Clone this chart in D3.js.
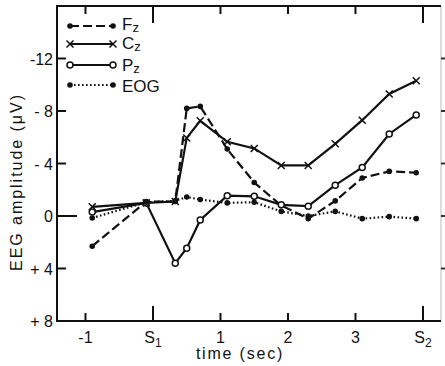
<!DOCTYPE html>
<html><head><meta charset="utf-8">
<script src="https://cdn.jsdelivr.net/npm/d3@7"></script>
<style>
html,body{margin:0;padding:0;background:#fff;}
svg{display:block;font-family:"Liberation Sans",Arial,sans-serif;}
</style></head>
<body><svg id="c" width="445" height="366"></svg>
<script>
// time in seconds, S1 = 0, S2 = 4
const times = [-0.9, -0.1, 0.33, 0.5, 0.7, 1.1, 1.5, 1.9, 2.3, 2.7, 3.1, 3.5, 3.9];
const fz  = [2.3, -1.1, -1.1, -8.2, -8.35, -5.1, -2.55, -0.8, 0.2, -1.15, -2.9, -3.4, -3.3];
const cz  = [-0.7, -1.0, -1.1, -5.95, -7.25, -5.65, -5.15, -3.85, -3.85, -5.5, -7.3, -9.3, -10.3];
const pz  = [-0.3, -1.0, 3.6, 2.45, 0.3, -1.55, -1.5, -0.85, -0.75, -2.35, -3.7, -6.25, -7.7];
const eog = [0.15, -1.05, -1.15, -1.45, -1.25, -1.0, -1.05, -0.35, 0.0, -0.35, 0.2, 0.05, 0.2];
const xTicks = [-1, 0, 1, 2, 3, 4];
const xTickLabels = ["-1", "S|1", "1", "2", "3", "S|2"];
const yTicks = [-12, -8, -4, 0, 4, 8];
const yTickLabels = ["-12", "- 8", "- 4", "0", "+ 4", "+ 8"];
const seriesNames = ["F|z", "C|z", "P|z", "EOG"];

const svg = d3.select("#c");
const L = 57, R = 441, T = 6, B = 321;
const x = d3.scaleLinear().domain([-1.422, 4.267]).range([L, R]);
const y = d3.scaleLinear().domain([-16, 8]).range([T, B]);

const series = [
  {name: seriesNames[0], vals: fz, dash: "9,4", marker: "dot"},
  {name: seriesNames[1], vals: cz, dash: null, marker: "x"},
  {name: seriesNames[2], vals: pz, dash: null, marker: "circle"},
  {name: seriesNames[3], vals: eog, dash: "1.6,2.4", marker: "dot"}
];

// frame
svg.append("line").attr("x1", R).attr("x2", R).attr("y1", T).attr("y2", B)
  .attr("stroke", "#bbb").attr("stroke-width", 1);
svg.append("path").attr("d", `M${R},${T}H${L}V${B}H${R}`)
  .attr("fill", "none").attr("stroke", "#111").attr("stroke-width", 2);

// bottom axis (ticks inward)
const bottom = svg.append("g").attr("transform", `translate(0,${B})`)
  .call(d3.axisBottom(x).tickValues(xTicks).tickSize(0).tickFormat(""));
bottom.select(".domain").remove();
xTicks.forEach((t, i) => {
  const long = (t === 0 || t === 4);
  svg.append("line").attr("x1", x(t)).attr("x2", x(t))
    .attr("y1", B).attr("y2", B - (long ? 15 : 8))
    .attr("stroke", "#111").attr("stroke-width", 2);
  svg.append("line").attr("x1", x(t)).attr("x2", x(t))
    .attr("y1", T).attr("y2", T + (long ? 17 : 8))
    .attr("stroke", "#111").attr("stroke-width", 2);
  const parts = xTickLabels[i].split("|");
  const tx = svg.append("text").attr("x", x(t)).attr("y", 343)
    .attr("text-anchor", "middle").attr("font-size", 16).attr("fill", "#111");
  tx.append("tspan").text(parts[0]);
  if (parts[1]) tx.append("tspan").attr("dy", 4).attr("font-size", 12).text(parts[1]);
});

// left axis (ticks inward)
const left = svg.append("g").attr("transform", `translate(${L},0)`)
  .call(d3.axisLeft(y).tickValues(yTicks).tickSize(0).tickFormat(""));
left.select(".domain").remove();
yTicks.forEach((v, i) => {
  svg.append("line").attr("x1", L).attr("x2", L + (v === 0 ? 20 : 9))
    .attr("y1", y(v)).attr("y2", y(v)).attr("stroke", "#111").attr("stroke-width", 2);
  if (v !== 8) {
    svg.append("line").attr("x1", R).attr("x2", R + 4)
      .attr("y1", y(v)).attr("y2", y(v)).attr("stroke", "#333").attr("stroke-width", 2);
  }
  svg.append("text").attr("x", 53).attr("y", y(v) + 6)
    .attr("text-anchor", "end").attr("font-size", 16).attr("fill", "#111")
    .text(yTickLabels[i]);
});

// axis titles
svg.append("text").attr("x", 240).attr("y", 359).attr("text-anchor", "middle")
  .attr("font-size", 16).attr("letter-spacing", 1.8).attr("fill", "#111").text("time (sec)");
svg.append("text").attr("transform", "translate(22,183) rotate(-90)")
  .attr("text-anchor", "middle").attr("font-size", 16).attr("fill", "#111")
  .attr("textLength", 176).attr("lengthAdjust", "spacing").text("EEG amplitude (μV)");

function drawMarker(g, kind, cx, cy) {
  if (kind === "dot") {
    g.append("circle").attr("cx", cx).attr("cy", cy).attr("r", 2.8).attr("fill", "#111");
  } else if (kind === "circle") {
    g.append("circle").attr("cx", cx).attr("cy", cy).attr("r", 3).attr("fill", "#fff")
      .attr("stroke", "#111").attr("stroke-width", 1.5);
  } else {
    const s = 3.5;
    g.append("path").attr("d", `M${cx-s},${cy-s}L${cx+s},${cy+s}M${cx-s},${cy+s}L${cx+s},${cy-s}`)
      .attr("stroke", "#111").attr("stroke-width", 1.5);
  }
}

const line = d3.line().x(d => x(d[0])).y(d => y(d[1]));
series.forEach(s => {
  const pts = times.map((t, i) => [t, s.vals[i]]);
  const g = svg.append("g");
  g.append("path").attr("d", line(pts)).attr("fill", "none")
    .attr("stroke", "#111").attr("stroke-width", 2.2)
    .attr("stroke-dasharray", s.dash);
  pts.forEach(p => drawMarker(g, s.marker, x(p[0]), y(p[1])));
});

// legend
const legY = [26, 44, 65, 85];
const legTextY = [30, 49, 71, 92];
series.forEach((s, i) => {
  const g = svg.append("g");
  const yy = legY[i];
  g.append("line").attr("x1", 70).attr("x2", 113).attr("y1", yy).attr("y2", yy)
    .attr("stroke", "#111").attr("stroke-width", 2.2).attr("stroke-dasharray", s.dash);
  drawMarker(g, s.marker, 70, yy);
  drawMarker(g, s.marker, 113, yy);
  const parts = s.name.split("|");
  const tx = g.append("text").attr("x", 122).attr("y", legTextY[i])
    .attr("font-size", 17).attr("fill", "#111");
  tx.append("tspan").text(parts[0]);
  if (parts[1]) tx.append("tspan").attr("dy", 2).attr("font-size", 13).text(parts[1]);
});
</script></body></html>
